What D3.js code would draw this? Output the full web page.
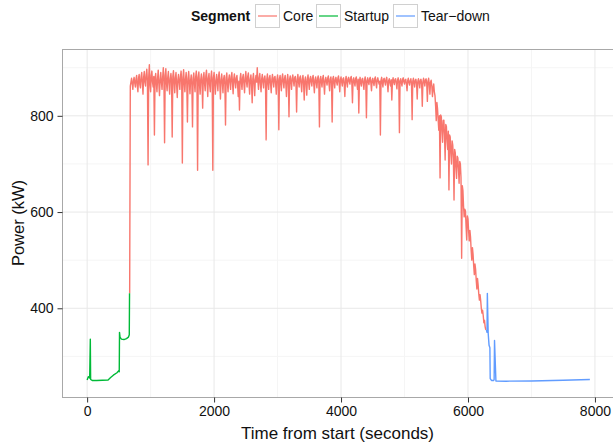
<!doctype html>
<html lang="en">
    <head>
        <meta charset="utf-8">
        <title>Power by segment</title>
        <script src="https://cdn.jsdelivr.net/npm/d3@7"></script>
        <style>
            body { margin: 0; background: #fff; }
            text { font-family: "Liberation Sans", Arial, sans-serif; }
        </style>
    </head>
    <body>

        <div id="chart"></div>

        <script type="text/javascript">

            // Startup segment (time in seconds, power in kW)
            var startupTime  = [0, 20, 40, 50, 55, 80, 150, 330, 370, 413, 470, 495, 506, 510, 518, 540, 580, 620, 650, 664, 668];
            var startupPower = [251, 258, 255, 336, 252, 250, 250, 251, 256, 261, 266, 270, 268, 350, 340, 336, 335, 337, 340, 345, 431];

            // Core segment, one reading every 10 s from 670 s (one row = 400 s)
            var coreStart = 670;
            var coreStep = 10;
            var corePower = [
                431,
                862, 870, 878, 866, 855, 874, 880, 868, 860, 877, 884, 862, 850, 879, 886, 865, 858, 882, 890, 868, 845, 880, 892, 870, 862, 885, 897, 872, 698, 880, 906, 866, 850, 884, 893, 870, 860, 882, 760, 878,
                888, 868, 850, 878, 895, 866, 842, 875, 890, 870, 855, 880, 900, 872, 744, 884, 898, 868, 852, 880, 892, 866, 845, 877, 888, 872, 756, 882, 894, 870, 848, 879, 890, 864, 838, 876, 886, 870, 855, 881,
                893, 870, 702, 880, 896, 868, 850, 877, 890, 866, 787, 878, 892, 870, 846, 874, 885, 865, 777, 879, 889, 868, 850, 881, 893, 872, 687, 880, 891, 866, 845, 876, 887, 869, 816, 879, 890, 867, 852, 883,
                895, 870, 840, 878, 888, 864, 850, 880, 893, 871, 687, 879, 890, 866, 845, 874, 886, 868, 852, 882, 891, 866, 835, 875, 887, 869, 848, 877, 884, 865, 781, 880, 889, 867, 850, 876, 885, 870, 855, 882,
                890, 868, 846, 877, 887, 870, 858, 879, 884, 865, 840, 872, 812, 878, 888, 869, 855, 880, 886, 866, 848, 879, 892, 871, 860, 882, 889, 867, 845, 876, 885, 866, 827, 877, 888, 868, 842, 875, 884, 870,
                900, 872, 855, 879, 888, 866, 850, 877, 886, 870, 858, 878, 883, 868, 750, 876, 887, 868, 855, 879, 884, 866, 848, 876, 886, 871, 860, 880, 882, 866, 845, 875, 885, 869, 771, 877, 884, 867, 852, 879,
                887, 870, 858, 878, 884, 866, 840, 874, 886, 868, 798, 876, 883, 869, 855, 878, 885, 872, 862, 879, 882, 868, 808, 875, 886, 871, 860, 879, 883, 867, 850, 876, 884, 868, 833, 874, 881, 866, 843, 876,
                885, 869, 855, 877, 882, 870, 862, 879, 884, 867, 848, 875, 881, 869, 858, 877, 883, 868, 777, 876, 882, 870, 860, 878, 884, 866, 845, 874, 880, 871, 864, 878, 883, 867, 852, 876, 881, 868, 787, 877,
                882, 869, 858, 876, 880, 870, 864, 878, 883, 868, 850, 875, 881, 870, 862, 877, 879, 866, 840, 874, 882, 869, 860, 877, 880, 871, 866, 878, 882, 868, 827, 875, 879, 869, 862, 877, 881, 867, 855, 876,
                806, 872, 880, 868, 862, 876, 878, 867, 855, 874, 881, 869, 796, 873, 879, 870, 865, 877, 880, 868, 852, 874, 878, 869, 863, 877, 881, 868, 858, 875, 879, 871, 866, 872, 760, 874, 880, 869, 860, 876,
                878, 870, 864, 876, 880, 867, 850, 873, 877, 869, 862, 875, 833, 872, 879, 870, 865, 876, 877, 868, 856, 874, 879, 869, 765, 873, 877, 869, 862, 876, 879, 870, 866, 875, 876, 866, 852, 873, 878, 869,
                864, 873, 877, 868, 792, 872, 878, 869, 860, 874, 876, 867, 835, 872, 877, 869, 858, 874, 876, 866, 820, 871, 878, 870, 862, 875, 877, 867, 830, 872, 878, 866, 845, 870, 874, 862, 840, 858, 866, 850,
                842, 820, 790, 828, 815, 792, 770, 800, 671, 802, 798, 770, 745, 790, 791, 760, 708, 782, 778, 748, 730, 768, 646, 760, 756, 722, 700, 748, 739, 712, 625, 730, 723, 692, 670, 716, 713, 690, 660, 705,
                700, 672, 504, 655, 645, 612, 590, 606, 602, 570, 542, 592, 586, 560, 540, 562, 548, 520, 500, 526, 512, 488, 470, 492, 481, 458, 440, 462, 448, 430, 417, 428, 416, 400, 390, 396, 385, 370, 375, 362, 355
            ];

            // Tear-down segment
            var teardownTime  = [6290, 6300, 6305, 6318, 6332, 6345, 6350, 6370, 6405, 6412, 6418, 6440, 6600, 7000, 7500, 7920];
            var teardownPower = [355, 350, 431, 348, 323, 318, 254, 250, 250, 252, 333, 249, 248.5, 249, 250.5, 252];

            var segmentNames = ["Core", "Startup", "Tear\u2212down"];
            var segmentColors = ["#F8766D", "#00BA38", "#619CFF"];

            var xTicks = [0, 2000, 4000, 6000, 8000];
            var xMinor = [1000, 3000, 5000, 7000];
            var yTicks = [400, 600, 800];
            var yMinor = [300, 500, 700, 900];

            // build point lists
            var toPoints = function(times, values){
                return times.map(function(t, i){ return { t: t, p: values[i] }; });
            };

            var corePoints = corePower.map(function(p, i){ return { t: coreStart + i * coreStep, p: p }; });
            var series = [
                { name: "Core", points: corePoints },
                { name: "Startup", points: toPoints(startupTime, startupPower) },
                { name: "Tear\u2212down", points: toPoints(teardownTime, teardownPower) }
            ];

            var all = [];
            series.forEach(function(s){ all = all.concat(s.points); });

            // ggplot style 5% expansion
            var tExt = d3.extent(all, function(d){ return d.t; });
            var pExt = d3.extent(all, function(d){ return d.p; });
            var tPad = (tExt[1] - tExt[0]) * 0.05;
            var pPad = (pExt[1] - pExt[0]) * 0.05;

            var panel = { left: 62, top: 49, right: 615, bottom: 397 };

            var x = d3.scaleLinear()
                .domain([tExt[0] - tPad, tExt[1] + tPad])
                .range([panel.left, panel.right]);

            var y = d3.scaleLinear()
                .domain([pExt[0] - pPad, pExt[1] + pPad])
                .range([panel.bottom, panel.top]);

            var color = d3.scaleOrdinal().domain(segmentNames).range(segmentColors);

            var svg = d3.select("#chart").append("svg")
                .attr("width", 613)
                .attr("height", 445);

            svg.append("rect")
                .attr("x", panel.left)
                .attr("y", panel.top)
                .attr("width", panel.right - panel.left)
                .attr("height", panel.bottom - panel.top)
                .attr("fill", "#fff");

            // grid lines, minor first
            svg.selectAll(".xminor").data(xMinor).enter().append("line")
                .attr("x1", function(d){ return x(d); }).attr("x2", function(d){ return x(d); })
                .attr("y1", panel.top).attr("y2", panel.bottom)
                .attr("stroke", "#f5f5f5").attr("stroke-width", 1);

            svg.selectAll(".yminor").data(yMinor).enter().append("line")
                .attr("x1", panel.left).attr("x2", panel.right)
                .attr("y1", function(d){ return y(d); }).attr("y2", function(d){ return y(d); })
                .attr("stroke", "#f5f5f5").attr("stroke-width", 1);

            svg.selectAll(".xmajor").data(xTicks).enter().append("line")
                .attr("x1", function(d){ return x(d); }).attr("x2", function(d){ return x(d); })
                .attr("y1", panel.top).attr("y2", panel.bottom)
                .attr("stroke", "#e8e8e8").attr("stroke-width", 1);

            svg.selectAll(".ymajor").data(yTicks).enter().append("line")
                .attr("x1", panel.left).attr("x2", panel.right)
                .attr("y1", function(d){ return y(d); }).attr("y2", function(d){ return y(d); })
                .attr("stroke", "#e8e8e8").attr("stroke-width", 1);

            // the lines
            var line = d3.line()
                .x(function(d){ return x(d.t); })
                .y(function(d){ return y(d.p); });

            svg.selectAll(".seg").data(series).enter().append("path")
                .attr("d", function(d){ return line(d.points); })
                .attr("fill", "none")
                .attr("stroke", function(d){ return color(d.name); })
                .attr("stroke-width", function(d){ return d.name == "Core" ? 1.4 : 1.4; })
                .attr("stroke-linejoin", "round");

            // panel border
            svg.append("rect")
                .attr("x", panel.left + 0.5)
                .attr("y", panel.top + 0.5)
                .attr("width", panel.right - panel.left)
                .attr("height", panel.bottom - panel.top)
                .attr("fill", "none")
                .attr("stroke", "#a8a8a8")
                .attr("stroke-width", 1);

            // axes
            var xAxis = svg.append("g")
                .attr("transform", "translate(0," + (panel.bottom + 0.5) + ")")
                .call(d3.axisBottom(x).tickValues(xTicks).tickSize(5).tickPadding(4).tickFormat(d3.format("d")));

            var yAxis = svg.append("g")
                .attr("transform", "translate(" + (panel.left + 0.5) + ",0)")
                .call(d3.axisLeft(y).tickValues(yTicks).tickSize(5).tickPadding(4).tickFormat(d3.format("d")));

            [xAxis, yAxis].forEach(function(a){
                a.select(".domain").remove();
                a.selectAll(".tick line").attr("stroke", "#333").attr("stroke-width", 1);
                a.selectAll(".tick text")
                    .attr("fill", "#111")
                    .style("font-size", "14px")
                    .style("font-family", "'Liberation Sans', Arial, sans-serif");
            });

            // axis titles
            svg.append("text")
                .attr("x", (panel.left + panel.right) / 2 - 1)
                .attr("y", 439)
                .attr("text-anchor", "middle")
                .style("font-size", "17px")
                .attr("fill", "#111")
                .text("Time from start (seconds)");

            svg.append("text")
                .attr("transform", "translate(24," + ((panel.top + panel.bottom) / 2) + ") rotate(-90)")
                .attr("text-anchor", "middle")
                .style("font-size", "16.5px")
                .attr("fill", "#111")
                .text("Power (kW)");

            // legend on top
            var legend = svg.append("g");

            legend.append("text")
                .attr("x", 191)
                .attr("y", 21)
                .style("font-size", "14px")
                .style("font-weight", "bold")
                .attr("fill", "#111")
                .text("Segment");

            var keyX = [255, 316, 393];

            var keys = legend.selectAll(".key").data(segmentNames).enter().append("g")
                .attr("transform", function(d, i){ return "translate(" + keyX[i] + ",4)"; });

            keys.append("rect")
                .attr("x", 0.5).attr("y", 0.5)
                .attr("width", 24).attr("height", 23)
                .attr("fill", "#fff")
                .attr("stroke", "#d0d0d0")
                .attr("stroke-width", 1);

            keys.append("line")
                .attr("x1", 3).attr("x2", 22)
                .attr("y1", 12).attr("y2", 12)
                .attr("stroke", function(d){ return color(d); })
                .attr("stroke-width", 1.2);

            keys.append("text")
                .attr("x", 28)
                .attr("y", 17)
                .style("font-size", "14px")
                .attr("fill", "#111")
                .text(function(d){ return d; });

        </script>

    </body>
</html>
